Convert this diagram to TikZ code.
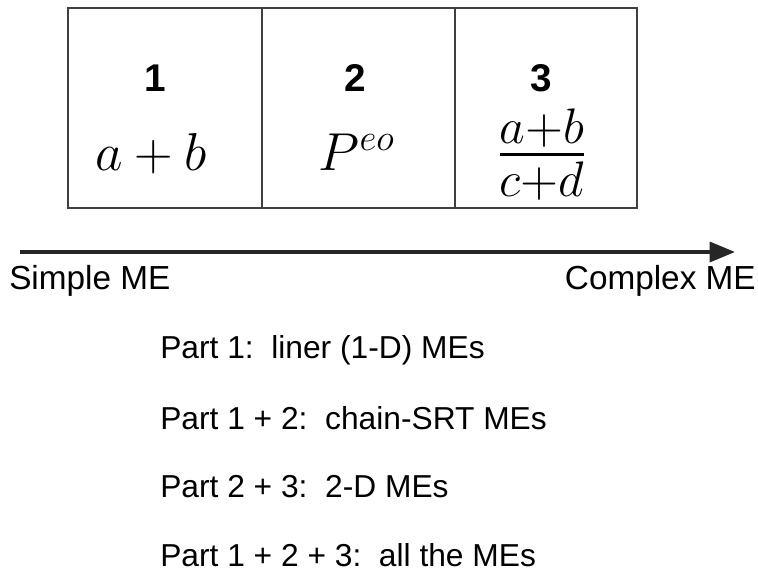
\documentclass[tikz,border=0pt]{standalone}
\usepackage{amsmath}
\usepackage{fontspec}
\setmainfont{Liberation Sans}
\usepackage{tikz}
\usetikzlibrary{arrows.meta,positioning}

\newcommand{\bigmath}[2]{\scalebox{#1}{\fontsize{20.74}{22}\selectfont$#2$}}

\begin{document}
\begin{tikzpicture}[
            x=0.75pt, y=-0.75pt,
            >={Triangle[length=19pt,width=15pt]},
            cell/.style={draw=black!75, line width=1.1pt},
            num/.style={font=\fontsize{29}{32}\selectfont\bfseries, inner sep=0pt},
            formula/.style={inner sep=0pt},
            ends/.style={font=\fontsize{25}{28}\selectfont, inner sep=0pt},
            part/.style={font=\fontsize{23.8}{27}\selectfont, inner sep=0pt, anchor=west}
        ]
        \useasboundingbox (0,0) rectangle (758,572);

        % the three parts
        \draw[cell] (68,8) rectangle (262,208);
        \draw[cell] (262,8) rectangle (455,208);
        \draw[cell] (455,8) rectangle (637,208);

        \node[num] (one) at (155,78) {1};
        \node[num] (two) at (355,78) {2};
        \node[num] (three) at (541,78) {3};

        \node[formula] (sum) at (151,154) {\bigmath{1.93}{a+b}};
        \node[formula] (pow) at (357,152) {\bigmath{1.93}{P^{eo}}};
        \node[formula] (ratio) at (542,155) {\bigmath{2.6}{\frac{a+b}{c+d}}};

        % complexity axis
        \coordinate (start) at (20,252);
        \coordinate (stop) at (735,252);
        \draw[->, line width=2.6pt, black!85] (start) -- (stop);

        \node[ends, anchor=west] (simple) at (9,281) {Simple ME};
        \node[ends, anchor=east] (complex) at (756,281) {Complex ME};

        % meaning of the parts
        \node[part] (p1) at (160,350) {Part 1:\ \ liner (1-D) MEs};
        \node[part] (p12) at (160,418) {Part 1 + 2:\ \ chain-SRT MEs};
        \node[part] (p23) at (160,487) {Part 2 + 3:\ \ 2-D MEs};
        \node[part] (p123) at (160,555) {Part 1 + 2 + 3:\ \ all the MEs};

    \end{tikzpicture}
\end{document}
